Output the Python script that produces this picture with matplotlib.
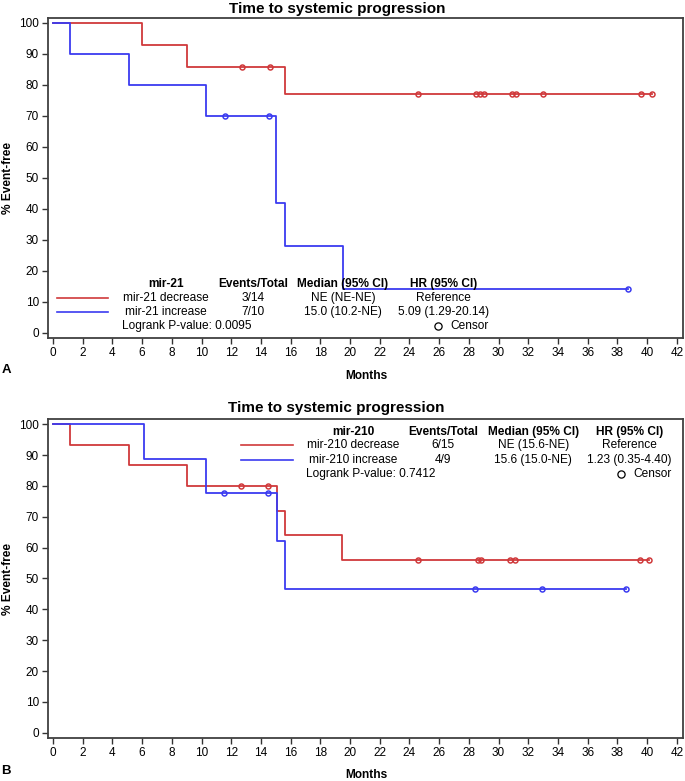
import numpy as np
import matplotlib
matplotlib.use("Agg")
import matplotlib.pyplot as plt
from matplotlib.lines import Line2D

plt.rcParams['font.family'] = ['Liberation Sans', 'DejaVu Sans']

W, H = 685, 781
RED = '#D0393B'
BLUE = '#3B3BF0'

# ---- Panel A: mir-21 ----
a_dec_t = [0, 6.0, 9.0, 15.6, 40.3]
a_dec_s = [100, 92.86, 85.71, 77.14, 77.14]
a_dec_cens = [12.7, 14.6, 24.6, 28.5, 28.75, 29.0, 30.9, 31.2, 33.0, 39.6, 40.3]

a_inc_t = [0, 1.15, 5.1, 10.3, 15.0, 15.6, 19.5, 38.7]
a_inc_s = [100, 90, 80, 70, 42, 28, 14, 14]
a_inc_cens = [11.55, 14.55, 38.7]

# ---- Panel B: mir-210 ----
b_dec_t = [0, 1.15, 5.1, 9.05, 15.05, 15.6, 19.45, 40.1]
b_dec_s = [100, 93.33, 86.67, 80, 72, 64, 56, 56]
b_dec_cens = [12.65, 14.5, 24.6, 28.6, 28.85, 30.8, 31.1, 39.5, 40.1]

b_inc_t = [0, 6.1, 10.3, 15.05, 15.6, 38.6]
b_inc_s = [100, 88.89, 77.78, 62.22, 46.67, 46.67]
b_inc_cens = [11.5, 14.5, 28.4, 32.9, 38.6]

header_a = ['mir-21', 'Events/Total', 'Median (95% CI)', 'HR (95% CI)']
rows_a = [['mir-21 decrease', '3/14', 'NE (NE-NE)', 'Reference'],
          ['mir-21 increase', '7/10', '15.0 (10.2-NE)', '5.09 (1.29-20.14)']]
pval_a = 'Logrank P-value: 0.0095'

header_b = ['mir-210', 'Events/Total', 'Median (95% CI)', 'HR (95% CI)']
rows_b = [['mir-210 decrease', '6/15', 'NE (15.6-NE)', 'Reference'],
          ['mir-210 increase', '4/9', '15.6 (15.0-NE)', '1.23 (0.35-4.40)']]
pval_b = 'Logrank P-value: 0.7412'

x_ticks = np.arange(0, 43, 2)
y_ticks = np.arange(0, 101, 10)


def fx(px):
    return px / W


def fy(py):
    return 1 - py / H


def surv_at(t, s, x):
    idx = np.searchsorted(t, x, side='right') - 1
    return np.asarray(s)[idx]


def km_panel(ax, curves, ylim):
    for t, s, cens, col in curves:
        ax.step(t, s, where='post', color=col, lw=1.3)
        ax.plot(cens, surv_at(t, s, cens), 'o', mfc='none', mec=col, mew=1.1, ms=3.6, ls='none')
    ax.set_xlim(-0.34, 42.42)
    ax.set_ylim(*ylim)
    ax.set_xticks(x_ticks)
    ax.set_yticks(y_ticks)
    ax.tick_params(axis='both', labelsize=8.5, length=4.5, width=1.0, color='#333333', pad=2)
    for sp in ax.spines.values():
        sp.set_linewidth(1.3)
        sp.set_color('#404040')


def legend_table(fig, header, rows, pval, col_x, y_rows, line_x, pval_x, cens_x):
    for txt, cx in zip(header, col_x):
        fig.text(fx(cx), fy(y_rows[0]), txt, ha='center', va='center', fontsize=8.6, fontweight='bold')
    for row, yy, col in zip(rows, y_rows[1:3], [RED, BLUE]):
        fig.add_artist(Line2D([fx(line_x[0]), fx(line_x[1])], [fy(yy), fy(yy)], color=col, lw=1.2,
                              transform=fig.transFigure))
        for txt, cx in zip(row, col_x):
            fig.text(fx(cx), fy(yy), txt, ha='center', va='center', fontsize=8.6)
    fig.text(fx(pval_x), fy(y_rows[3]), pval, ha='left', va='center', fontsize=8.6)
    fig.add_artist(Line2D([fx(cens_x)], [fy(y_rows[3])], marker='o', mfc='none', mec='black', mew=0.9,
                          ms=5.2, transform=fig.transFigure))
    fig.text(fx(cens_x + 12.5), fy(y_rows[3]), 'Censor', ha='left', va='center', fontsize=8.6)


fig = plt.figure(figsize=(W / 100, H / 100), dpi=100)

# Panel A
axA = fig.add_axes([fx(48), fy(338), (683 - 48) / W, (338 - 17.7) / H])
km_panel(axA, [(a_dec_t, a_dec_s, a_dec_cens, RED), (a_inc_t, a_inc_s, a_inc_cens, BLUE)], (-1.7, 101.6))
fig.text(fx(337), fy(8.5), 'Time to systemic progression', ha='center', va='center', fontsize=11, fontweight='bold')
fig.text(fx(366), fy(376), 'Months', ha='center', va='center', fontsize=8.6, fontweight='bold')
fig.text(fx(8), fy(178), '% Event-free', ha='center', va='center', rotation=90, fontsize=8.6, fontweight='bold')
fig.text(fx(6), fy(370), 'A', ha='center', va='center', fontsize=9.5, fontweight='bold')
legend_table(fig, header_a, rows_a, pval_a,
             col_x=[166, 253, 343, 443.5], y_rows=[283.7, 297.7, 312, 326],
             line_x=[56.7, 108.3], pval_x=122.5, cens_x=438.3)

# Panel B
axB = fig.add_axes([fx(48), fy(738.3), (683 - 48) / W, (738.3 - 419.3) / H])
km_panel(axB, [(b_dec_t, b_dec_s, b_dec_cens, RED), (b_inc_t, b_inc_s, b_inc_cens, BLUE)], (-1.8, 101.6))
fig.text(fx(336), fy(408), 'Time to systemic progression', ha='center', va='center', fontsize=11, fontweight='bold')
fig.text(fx(366), fy(775), 'Months', ha='center', va='center', fontsize=8.6, fontweight='bold')
fig.text(fx(8), fy(579), '% Event-free', ha='center', va='center', rotation=90, fontsize=8.6, fontweight='bold')
fig.text(fx(6), fy(771), 'B', ha='center', va='center', fontsize=9.5, fontweight='bold')
legend_table(fig, header_b, rows_b, pval_b,
             col_x=[353.5, 443.3, 533.3, 629.3], y_rows=[431.7, 445.3, 460, 474.3],
             line_x=[241, 292.7], pval_x=306.3, cens_x=621)

fig.savefig('out.png', dpi=100)
